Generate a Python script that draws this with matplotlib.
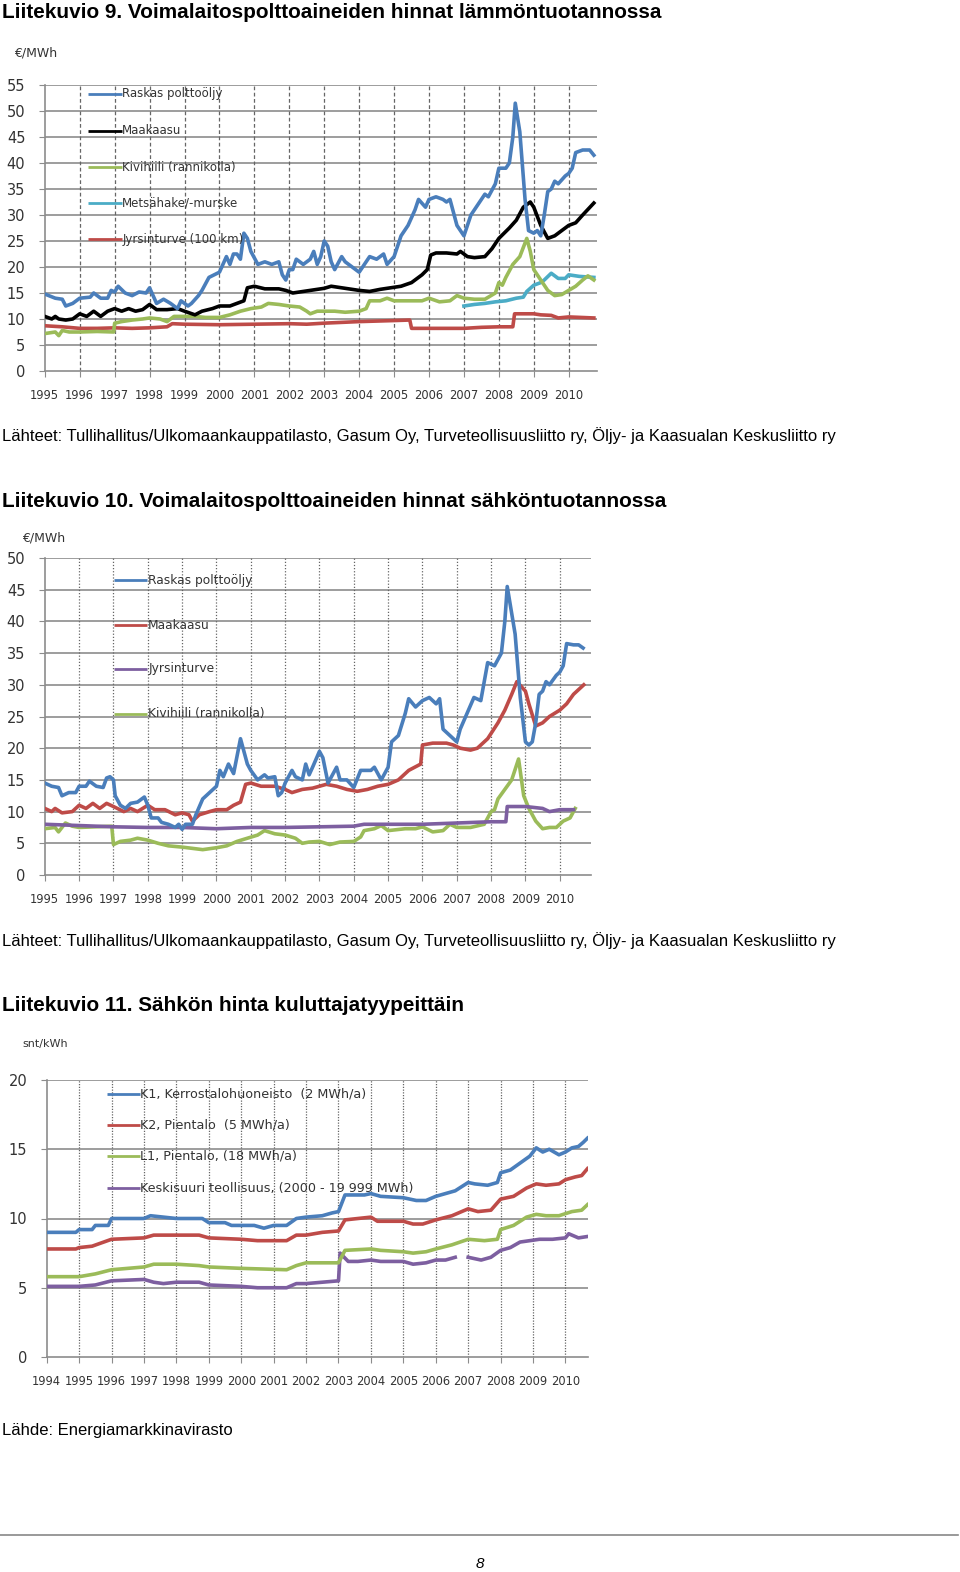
import numpy as np
import matplotlib
matplotlib.use("Agg")
import matplotlib.pyplot as plt

W, H = 960, 1572

# ---- Liitekuvio 9: lämmöntuotanto ----
c1_oil_x = [1995.0, 1995.3, 1995.5, 1995.6, 1995.8, 1996.0, 1996.3, 1996.4, 1996.6, 1996.8, 1996.9, 1997.0,
            1997.1, 1997.3, 1997.5, 1997.7, 1997.9, 1998.0, 1998.1, 1998.2, 1998.4, 1998.6, 1998.8, 1998.9,
            1999.0, 1999.1, 1999.2, 1999.4, 1999.5, 1999.7, 2000.0, 2000.2, 2000.3, 2000.4, 2000.5, 2000.6,
            2000.7, 2000.8, 2000.9, 2001.1, 2001.3, 2001.5, 2001.7, 2001.8, 2001.9, 2002.0, 2002.1, 2002.2,
            2002.4, 2002.6, 2002.7, 2002.8, 2002.9, 2003.0, 2003.1, 2003.2, 2003.3, 2003.5, 2003.6, 2003.8,
            2004.0, 2004.3, 2004.5, 2004.7, 2004.8, 2005.0, 2005.2, 2005.4, 2005.6, 2005.7, 2005.9, 2006.0,
            2006.2, 2006.4, 2006.5, 2006.6, 2006.8, 2007.0, 2007.1, 2007.2, 2007.4, 2007.6, 2007.7, 2007.9,
            2008.0, 2008.2, 2008.3, 2008.4, 2008.47, 2008.6, 2008.75, 2008.85, 2009.0, 2009.1, 2009.2, 2009.3,
            2009.4, 2009.5, 2009.6, 2009.7, 2009.9, 2010.0, 2010.1, 2010.2, 2010.4, 2010.6, 2010.72]
c1_oil_y = [14.8, 14.0, 13.8, 12.5, 13.0, 14.0, 14.2, 15.0, 14.0, 14.0, 15.5, 15.2,
            16.3, 15.0, 14.5, 15.2, 15.0, 16.0, 14.5, 13.0, 13.8, 13.0, 12.0, 13.5,
            13.0, 12.5, 13.0, 14.5, 15.5, 18.0, 19.0, 22.0, 20.5, 22.5, 22.5, 21.5,
            26.5, 25.5, 23.0, 20.5, 21.0, 20.5, 21.0, 18.5, 17.5, 19.5, 19.5, 21.5,
            20.5, 21.5, 23.0, 20.5, 22.0, 25.0, 24.0, 21.0, 19.5, 22.0, 21.0, 20.0,
            19.0, 22.0, 21.5, 22.5, 20.5, 22.0, 26.0, 28.0, 31.0, 33.0, 31.5, 33.0,
            33.5, 33.0, 32.5, 33.0, 28.0, 26.0, 28.0, 30.0, 32.0, 34.0, 33.5, 36.0,
            39.0, 39.0, 40.0, 45.0, 51.5, 46.0, 33.0, 27.0, 26.5, 27.0, 26.0, 30.0,
            34.5, 35.0, 36.5, 36.0, 37.5, 38.0, 39.0, 42.0, 42.5, 42.5, 41.5]

c1_gas_x = [1995.0, 1995.2, 1995.3, 1995.4, 1995.6, 1995.8, 1996.0, 1996.2, 1996.4, 1996.6, 1996.8, 1997.0,
            1997.2, 1997.4, 1997.6, 1997.8, 1998.0, 1998.2, 1998.5, 1998.8, 1999.0, 1999.3, 1999.5, 1999.8,
            2000.0, 2000.3, 2000.5, 2000.7, 2000.8, 2001.0, 2001.3, 2001.7, 2001.9, 2002.1, 2002.4, 2002.7,
            2003.0, 2003.2, 2003.5, 2003.8, 2004.0, 2004.3, 2004.6, 2004.9, 2005.2, 2005.5, 2005.8, 2005.95,
            2006.05, 2006.2, 2006.5, 2006.8, 2006.9, 2007.1, 2007.3, 2007.6, 2007.8, 2008.0, 2008.3, 2008.5,
            2008.7, 2008.9, 2009.0, 2009.2, 2009.4, 2009.6, 2009.8, 2010.0, 2010.2, 2010.4, 2010.72]
c1_gas_y = [10.5, 10.0, 10.5, 10.0, 9.8, 10.0, 11.0, 10.5, 11.5, 10.5, 11.5, 12.0,
            11.5, 12.0, 11.5, 11.8, 12.8, 11.8, 11.8, 12.0, 11.5, 10.8, 11.5, 12.0,
            12.5, 12.5, 13.0, 13.5, 16.0, 16.3, 15.8, 15.8, 15.5, 15.0, 15.3, 15.6,
            15.9, 16.3, 16.0, 15.7, 15.5, 15.3, 15.7, 16.0, 16.3, 17.0, 18.5, 19.5,
            22.3, 22.7, 22.7, 22.5, 23.0, 22.0, 21.8, 22.0, 23.5, 25.5, 27.5, 29.0,
            31.5, 32.5, 31.5, 28.0, 25.5, 26.0, 27.0, 28.0, 28.5, 30.0, 32.3]

c1_coal_x = [1995.0, 1995.3, 1995.4, 1995.5, 1995.7, 1996.0, 1996.5, 1996.97, 1997.0, 1997.2, 1997.5, 1997.8,
             1998.0, 1998.3, 1998.5, 1998.7, 1999.0, 1999.3, 1999.6, 2000.0, 2000.3, 2000.6, 2000.9, 2001.2,
             2001.4, 2001.7, 2002.0, 2002.3, 2002.5, 2002.6, 2002.8, 2003.0, 2003.3, 2003.6, 2004.0, 2004.2,
             2004.3, 2004.6, 2004.8, 2005.0, 2005.5, 2005.8, 2006.0, 2006.3, 2006.6, 2006.8, 2007.0, 2007.3,
             2007.6, 2007.9, 2008.0, 2008.1, 2008.2, 2008.4, 2008.6, 2008.8, 2008.9, 2009.0, 2009.2, 2009.4,
             2009.6, 2009.8, 2010.0, 2010.2, 2010.4, 2010.55, 2010.72]
c1_coal_y = [7.2, 7.5, 6.8, 7.8, 7.5, 7.5, 7.6, 7.5, 9.2, 9.5, 9.8, 10.0,
             10.2, 10.0, 9.5, 10.5, 10.5, 10.5, 10.3, 10.3, 10.8, 11.5, 12.0, 12.3,
             13.0, 12.8, 12.5, 12.3, 11.5, 11.0, 11.5, 11.5, 11.5, 11.3, 11.5, 12.0,
             13.5, 13.5, 14.0, 13.5, 13.5, 13.5, 14.0, 13.3, 13.5, 14.5, 14.0, 13.8,
             13.8, 15.0, 17.0, 16.5, 18.0, 20.5, 22.0, 25.5, 23.0, 19.5, 17.5, 15.5,
             14.5, 14.7, 15.5, 16.3, 17.5, 18.3, 17.5]

c1_chip_x = [2007.0, 2007.3, 2007.6, 2007.9, 2008.2, 2008.5, 2008.7, 2008.8, 2009.0, 2009.2, 2009.3, 2009.5,
             2009.7, 2009.9, 2010.0, 2010.3, 2010.72]
c1_chip_y = [12.5, 12.8, 13.0, 13.3, 13.5, 14.0, 14.2, 15.3, 16.5, 17.0, 17.5, 18.8,
             17.8, 17.8, 18.5, 18.2, 18.0]

c1_peat_x = [1995.0, 1995.5, 1996.0, 1996.5, 1997.0, 1997.5, 1998.0, 1998.5, 1998.65, 1999.0, 2000.0, 2001.0,
             2002.0, 2002.5, 2003.0, 2004.0, 2004.5, 2005.0, 2005.45, 2005.5, 2006.0, 2007.0, 2007.5, 2008.0,
             2008.4, 2008.45, 2009.0, 2009.2, 2009.5, 2009.7, 2010.0, 2010.72]
c1_peat_y = [8.7, 8.5, 8.2, 8.2, 8.3, 8.2, 8.3, 8.5, 9.1, 9.0, 8.9, 9.0,
             9.1, 9.0, 9.2, 9.5, 9.6, 9.7, 9.8, 8.2, 8.2, 8.2, 8.4, 8.5,
             8.5, 11.0, 11.0, 10.8, 10.7, 10.2, 10.4, 10.2]

c1_names = ["Raskas polttoöljy", "Maakaasu", "Kivihiili (rannikolla)", "Metsähake/-murske", "Jyrsinturve (100 km)"]
c1_legend_y = [53.3, 46.2, 39.2, 32.4, 25.3]

# ---- Liitekuvio 10: sähköntuotanto ----
c2_oil_x = [1995.0, 1995.2, 1995.4, 1995.5, 1995.7, 1995.9, 1996.0, 1996.2, 1996.3, 1996.5, 1996.7, 1996.8,
            1996.9, 1997.0, 1997.05, 1997.2, 1997.35, 1997.5, 1997.7, 1997.9, 1998.0, 1998.1, 1998.3, 1998.4,
            1998.6, 1998.8, 1998.9, 1999.0, 1999.1, 1999.3, 1999.4, 1999.6, 1999.8, 2000.0, 2000.1, 2000.2,
            2000.35, 2000.5, 2000.7, 2000.9, 2001.0, 2001.2, 2001.4, 2001.5, 2001.7, 2001.8, 2001.9, 2002.0,
            2002.2, 2002.3, 2002.5, 2002.6, 2002.7, 2002.8, 2003.0, 2003.1, 2003.25, 2003.5, 2003.6, 2003.8,
            2004.0, 2004.2, 2004.5, 2004.6, 2004.8, 2005.0, 2005.1, 2005.3, 2005.5, 2005.6, 2005.8, 2006.0,
            2006.2, 2006.4, 2006.5, 2006.6, 2006.8, 2007.0, 2007.1, 2007.3, 2007.5, 2007.7, 2007.9, 2008.1,
            2008.3, 2008.4, 2008.47, 2008.7, 2008.85, 2009.0, 2009.1, 2009.2, 2009.3, 2009.4, 2009.5, 2009.6,
            2009.7, 2009.9, 2010.0, 2010.1, 2010.2, 2010.4, 2010.55, 2010.68]
c2_oil_y = [14.5, 14.0, 13.8, 12.5, 13.0, 13.0, 14.0, 14.0, 14.8, 14.0, 13.8, 15.3,
            15.5, 15.0, 12.5, 11.0, 10.5, 11.3, 11.5, 12.3, 11.0, 9.0, 9.0, 8.3,
            8.0, 7.5, 8.0, 7.2, 8.0, 8.0, 9.5, 12.0, 13.0, 14.0, 16.5, 15.5,
            17.5, 16.0, 21.5, 17.5, 16.5, 15.0, 15.8, 15.3, 15.5, 12.5, 13.0, 14.5,
            16.5, 15.5, 15.0, 17.5, 15.8, 17.0, 19.5, 18.5, 14.5, 17.0, 15.0, 15.0,
            13.8, 16.5, 16.5, 17.0, 15.0, 17.0, 21.0, 22.0, 25.5, 27.8, 26.5, 27.5,
            28.0, 27.0, 27.8, 23.0, 22.0, 21.0, 23.0, 25.5, 28.0, 27.5, 33.5, 33.0,
            35.0, 40.0, 45.5, 38.0, 28.0, 21.0, 20.5, 21.0, 24.0, 28.5, 29.0, 30.5,
            30.0, 31.5, 32.0, 33.0, 36.5, 36.3, 36.3, 35.8]

c2_gas_x = [1995.0, 1995.2, 1995.3, 1995.5, 1995.8, 1996.0, 1996.2, 1996.4, 1996.6, 1996.8, 1997.0, 1997.3,
            1997.5, 1997.7, 1998.0, 1998.2, 1998.5, 1998.8, 1999.0, 1999.2, 1999.3, 1999.5, 1999.8, 2000.0,
            2000.3, 2000.5, 2000.7, 2000.85, 2001.0, 2001.3, 2001.7, 2002.0, 2002.2, 2002.5, 2002.8, 2003.0,
            2003.2, 2003.5, 2003.8, 2004.1, 2004.4, 2004.7, 2005.0, 2005.3, 2005.6, 2005.95, 2006.0, 2006.3,
            2006.7, 2006.9, 2007.1, 2007.4, 2007.6, 2007.9, 2008.2, 2008.4, 2008.6, 2008.75, 2009.0, 2009.1,
            2009.3, 2009.5, 2009.7, 2010.0, 2010.2, 2010.4, 2010.7]
c2_gas_y = [10.5, 10.0, 10.5, 9.8, 10.0, 11.0, 10.5, 11.3, 10.5, 11.3, 10.8, 10.0,
            10.5, 10.0, 11.0, 10.3, 10.3, 9.5, 9.8, 9.5, 8.5, 9.5, 10.0, 10.3,
            10.3, 11.0, 11.5, 14.3, 14.5, 14.0, 14.0, 13.5, 13.0, 13.5, 13.7, 14.0,
            14.3, 14.0, 13.5, 13.2, 13.5, 14.0, 14.3, 15.0, 16.5, 17.5, 20.5, 20.8,
            20.8, 20.5, 20.0, 19.7, 20.0, 21.5, 24.0, 26.0, 28.5, 30.5, 29.0, 27.0,
            23.5, 24.0, 25.0, 26.0, 27.0, 28.5, 30.0]

c2_peat_x = [1995.0, 1996.0, 1997.0, 1998.0, 1999.0, 2000.0, 2001.0, 2002.0, 2003.0, 2004.0, 2004.3, 2005.0,
             2006.0, 2007.0, 2007.5, 2008.0, 2008.43, 2008.47, 2009.0, 2009.5, 2009.7, 2010.0, 2010.4]
c2_peat_y = [8.0, 7.8, 7.6, 7.5, 7.5, 7.3, 7.5, 7.5, 7.6, 7.7, 8.0, 8.0,
             8.0, 8.2, 8.3, 8.4, 8.4, 10.8, 10.8, 10.5, 10.0, 10.3, 10.3]

c2_coal_x = [1995.0, 1995.3, 1995.4, 1995.6, 1995.8, 1996.0, 1996.95, 1997.0, 1997.2, 1997.5, 1997.7, 1998.0,
             1998.3, 1998.6, 1999.0, 1999.3, 1999.6, 2000.0, 2000.3, 2000.6, 2000.9, 2001.2, 2001.4, 2001.7,
             2002.0, 2002.3, 2002.5, 2002.7, 2003.0, 2003.3, 2003.6, 2004.0, 2004.2, 2004.3, 2004.6, 2004.8,
             2005.0, 2005.5, 2005.8, 2006.0, 2006.3, 2006.6, 2006.8, 2007.0, 2007.4, 2007.8, 2008.0, 2008.1,
             2008.2, 2008.4, 2008.6, 2008.8, 2008.95, 2009.1, 2009.3, 2009.5, 2009.7, 2009.9, 2010.1, 2010.3,
             2010.45]
c2_coal_y = [7.3, 7.5, 6.8, 8.2, 7.7, 7.5, 7.7, 4.8, 5.3, 5.5, 5.8, 5.5,
             5.0, 4.6, 4.4, 4.2, 4.0, 4.3, 4.6, 5.3, 5.8, 6.3, 7.0, 6.5,
             6.3, 5.8, 5.0, 5.2, 5.3, 4.8, 5.2, 5.3, 6.0, 7.0, 7.3, 7.8,
             7.0, 7.3, 7.3, 7.6, 6.8, 7.0, 8.0, 7.5, 7.5, 8.0, 10.0, 10.3,
             12.0, 13.5, 15.0, 18.3, 12.5, 10.5, 8.5, 7.3, 7.5, 7.5, 8.5, 9.0,
             10.5]

c2_names = ["Raskas polttoöljy", "Maakaasu", "Jyrsinturve", "Kivihiili (rannikolla)"]
c2_legend_y = [46.5, 39.4, 32.5, 25.4]

# ---- Liitekuvio 11: sähkön hinta ----
c3_k1_x = [1994.0, 1994.9, 1995.0, 1995.4, 1995.5, 1995.9, 1996.0, 1997.0, 1997.2, 1998.0, 1998.8, 1999.0,
           1999.5, 1999.7, 2000.4, 2000.7, 2001.0, 2001.4, 2001.7, 2002.0, 2002.5, 2002.8, 2003.0, 2003.2,
           2003.8, 2004.0, 2004.3, 2005.0, 2005.4, 2005.7, 2006.0, 2006.3, 2006.6, 2007.0, 2007.2, 2007.6,
           2007.9, 2008.0, 2008.3, 2008.6, 2008.9, 2009.1, 2009.3, 2009.5, 2009.8, 2010.0, 2010.2, 2010.4,
           2010.55, 2010.68]
c3_k1_y = [9.0, 9.0, 9.2, 9.2, 9.5, 9.5, 10.0, 10.0, 10.2, 10.0, 10.0, 9.7,
           9.7, 9.5, 9.5, 9.3, 9.5, 9.5, 10.0, 10.1, 10.2, 10.4, 10.5, 11.7,
           11.7, 11.8, 11.6, 11.5, 11.3, 11.3, 11.6, 11.8, 12.0, 12.6, 12.5, 12.4,
           12.6, 13.3, 13.5, 14.0, 14.5, 15.1, 14.8, 15.0, 14.6, 14.8, 15.1, 15.2,
           15.5, 15.8]

c3_k2_x = [1994.0, 1994.9, 1995.0, 1995.4, 1996.0, 1997.0, 1997.3, 1998.0, 1998.7, 1999.0, 2000.0, 2000.5,
           2001.4, 2001.7, 2002.0, 2002.5, 2003.0, 2003.2, 2004.0, 2004.2, 2005.0, 2005.3, 2005.6, 2006.0,
           2006.5, 2007.0, 2007.3, 2007.7, 2008.0, 2008.4, 2008.8, 2009.1, 2009.4, 2009.8, 2010.0, 2010.3,
           2010.5, 2010.68]
c3_k2_y = [7.8, 7.8, 7.9, 8.0, 8.5, 8.6, 8.8, 8.8, 8.8, 8.6, 8.5, 8.4,
           8.4, 8.8, 8.8, 9.0, 9.1, 9.9, 10.1, 9.8, 9.8, 9.6, 9.6, 9.9,
           10.2, 10.7, 10.5, 10.6, 11.4, 11.6, 12.2, 12.5, 12.4, 12.5, 12.8, 13.0,
           13.1, 13.6]

c3_l1_x = [1994.0, 1995.0, 1995.5, 1996.0, 1997.0, 1997.3, 1998.0, 1998.7, 1999.0, 2000.0, 2001.4, 2001.7,
           2002.0, 2003.0, 2003.2, 2004.0, 2004.3, 2005.0, 2005.3, 2005.7, 2006.0, 2006.5, 2007.0, 2007.5,
           2007.9, 2008.0, 2008.4, 2008.8, 2009.1, 2009.4, 2009.8, 2010.2, 2010.5, 2010.68]
c3_l1_y = [5.8, 5.8, 6.0, 6.3, 6.5, 6.7, 6.7, 6.6, 6.5, 6.4, 6.3, 6.6,
           6.8, 6.8, 7.7, 7.8, 7.7, 7.6, 7.5, 7.6, 7.8, 8.1, 8.5, 8.4,
           8.5, 9.2, 9.5, 10.1, 10.3, 10.2, 10.2, 10.5, 10.6, 11.0]

# nan = katko sarjassa (2006-2007)
c3_ind_x = [1994.0, 1995.0, 1995.5, 1996.0, 1997.0, 1997.3, 1997.6, 1998.0, 1998.7, 1999.0, 2000.0, 2000.5,
            2001.4, 2001.7, 2002.0, 2003.0, 2003.05, 2003.3, 2003.6, 2004.0, 2004.3, 2005.0, 2005.3, 2005.7,
            2006.0, 2006.3, 2006.6, 2006.8, 2007.0, 2007.4, 2007.7, 2008.0, 2008.3, 2008.6, 2008.9, 2009.2,
            2009.6, 2010.0, 2010.1, 2010.4, 2010.68]
c3_ind_y = [5.1, 5.1, 5.2, 5.5, 5.6, 5.4, 5.3, 5.4, 5.4, 5.2, 5.1, 5.0,
            5.0, 5.3, 5.3, 5.5, 7.5, 6.9, 6.9, 7.0, 6.9, 6.9, 6.7, 6.8,
            7.0, 7.0, 7.2, np.nan, 7.2, 7.0, 7.2, 7.7, 7.9, 8.3, 8.4, 8.5,
            8.5, 8.6, 8.9, 8.6, 8.7]

c3_names = ["K1, Kerrostalohuoneisto  (2 MWh/a)", "K2, Pientalo  (5 MWh/a)", "L1, Pientalo, (18 MWh/a)",
            "Keskisuuri teollisuus, (2000 - 19 999 MWh)"]
c3_legend_y = [19.0, 16.75, 14.5, 12.2]

BLUE = '#4A7EBB'
RED = '#BE4B48'
GREEN = '#9BBB59'
CYAN = '#4BACC6'
PURPLE = '#7D5FA0'
BLACK = '#000000'
TXT = '#333333'

fig = plt.figure(figsize=(W / 100, H / 100), dpi=100)


def px_axes(l, t, r, b):
    return fig.add_axes([l / W, 1 - b / H, (r - l) / W, (b - t) / H])


def ftext(x, y, s, **kw):
    fig.text(x / W, 1 - y / H, s, **kw)


def setup(ax, x0, x1, ymax, ystep, vdash):
    ax.set_xlim(x0, x1)
    ax.set_ylim(0, ymax)
    for s in ['top', 'right']:
        ax.spines[s].set_visible(False)
    for s in ['left', 'bottom']:
        ax.spines[s].set_color('#8c8c8c')
        ax.spines[s].set_linewidth(1.2)
    for v in range(ystep, ymax + 1, ystep):
        ax.axhline(v, color='#8c8c8c', lw=1.2, zorder=1)
    for yr in range(int(x0) + 1, int(x1) + 1):
        ax.axvline(yr, color='#666666', lw=0.9, linestyle=(0, vdash), zorder=1)
    years = list(range(int(x0), int(x1) + 1))
    ax.set_xticks(years)
    ax.set_xticklabels([str(y) for y in years], fontsize=8.3, color=TXT)
    ax.set_yticks(range(0, ymax + 1, ystep))
    ax.tick_params(axis='x', length=4, color='#8c8c8c', pad=9)
    ax.tick_params(axis='y', length=4, color='#8c8c8c', labelsize=10.5, labelcolor=TXT, pad=10)
    ax.patch.set_alpha(0)


def legend(ax, x0, x1, ys, names, colors, size):
    for y, n, c in zip(ys, names, colors):
        ax.plot([x0, x1], [y, y], color=c, lw=2.0, solid_capstyle='butt', zorder=4)
        ax.text(x1 + 0.02, y, n, fontsize=size, color=TXT, va='center', ha='left', zorder=4)


TITLE = dict(fontsize=14.95, fontweight='bold', family='Liberation Sans', va='baseline')
SRC = dict(fontsize=12.0, family='Liberation Sans', va='baseline')
lw = 2.6

# ---- kuvio 9 ----
ftext(2, 18, "Liitekuvio 9. Voimalaitospolttoaineiden hinnat lämmöntuotannossa", **TITLE)
ftext(14, 53, "€/MWh", fontsize=9, color=TXT, va='center')
ax1 = px_axes(44.8, 85, 597, 371)
setup(ax1, 1995, 2010.81, 55, 5, (3, 2))
ax1.plot(c1_peat_x, c1_peat_y, color=RED, lw=lw, zorder=3)
ax1.plot(c1_chip_x, c1_chip_y, color=CYAN, lw=lw, zorder=3)
ax1.plot(c1_coal_x, c1_coal_y, color=GREEN, lw=lw, zorder=3)
ax1.plot(c1_gas_x, c1_gas_y, color=BLACK, lw=lw, zorder=3)
ax1.plot(c1_oil_x, c1_oil_y, color=BLUE, lw=lw, zorder=3)
legend(ax1, 1996.23, 1997.2, c1_legend_y, c1_names, [BLUE, BLACK, GREEN, CYAN, RED], 8.5)
ftext(2, 441, "Lähteet: Tullihallitus/Ulkomaankauppatilasto, Gasum Oy, Turveteollisuusliitto ry, "
      "Öljy- ja Kaasualan Keskusliitto ry", **SRC)

# ---- kuvio 10 ----
ftext(2, 507, "Liitekuvio 10. Voimalaitospolttoaineiden hinnat sähköntuotannossa", **TITLE)
ftext(22, 538, "€/MWh", fontsize=9, color=TXT, va='center')
ax2 = px_axes(44.8, 558, 591, 875)
setup(ax2, 1995, 2010.91, 50, 5, (1, 1.5))
ax2.plot(c2_coal_x, c2_coal_y, color=GREEN, lw=lw, zorder=3)
ax2.plot(c2_peat_x, c2_peat_y, color=PURPLE, lw=lw, zorder=3)
ax2.plot(c2_gas_x, c2_gas_y, color=RED, lw=lw, zorder=3)
ax2.plot(c2_oil_x, c2_oil_y, color=BLUE, lw=lw, zorder=3)
legend(ax2, 1997.02, 1997.99, c2_legend_y, c2_names, [BLUE, RED, PURPLE, GREEN], 8.8)
ftext(2, 946, "Lähteet: Tullihallitus/Ulkomaankauppatilasto, Gasum Oy, Turveteollisuusliitto ry, "
      "Öljy- ja Kaasualan Keskusliitto ry", **SRC)

# ---- kuvio 11 ----
ftext(2, 1011, "Liitekuvio 11. Sähkön hinta kuluttajatyypeittäin", **TITLE)
ftext(22, 1044, "snt/kWh", fontsize=8, color=TXT, va='center')
ax3 = px_axes(46.7, 1080, 587.5, 1357)
setup(ax3, 1994, 2010.68, 20, 5, (1, 1.2))
ax3.plot(c3_ind_x, c3_ind_y, color=PURPLE, lw=lw, zorder=3)
ax3.plot(c3_l1_x, c3_l1_y, color=GREEN, lw=lw, zorder=3)
ax3.plot(c3_k2_x, c3_k2_y, color=RED, lw=lw, zorder=3)
ax3.plot(c3_k1_x, c3_k1_y, color=BLUE, lw=lw, zorder=3)
legend(ax3, 1995.86, 1996.87, c3_legend_y, c3_names, [BLUE, RED, GREEN, PURPLE], 9.2)
ftext(2, 1435, "Lähde: Energiamarkkinavirasto", **SRC)

# sivun alareuna
fig.add_artist(plt.Line2D([0, 958 / W], [1 - 1535 / H, 1 - 1535 / H], color='#888888', lw=1.2))
ftext(480, 1568, "8", fontsize=11, style='italic', family='Liberation Sans', ha='center', va='baseline')

fig.savefig("out.png", dpi=100)
